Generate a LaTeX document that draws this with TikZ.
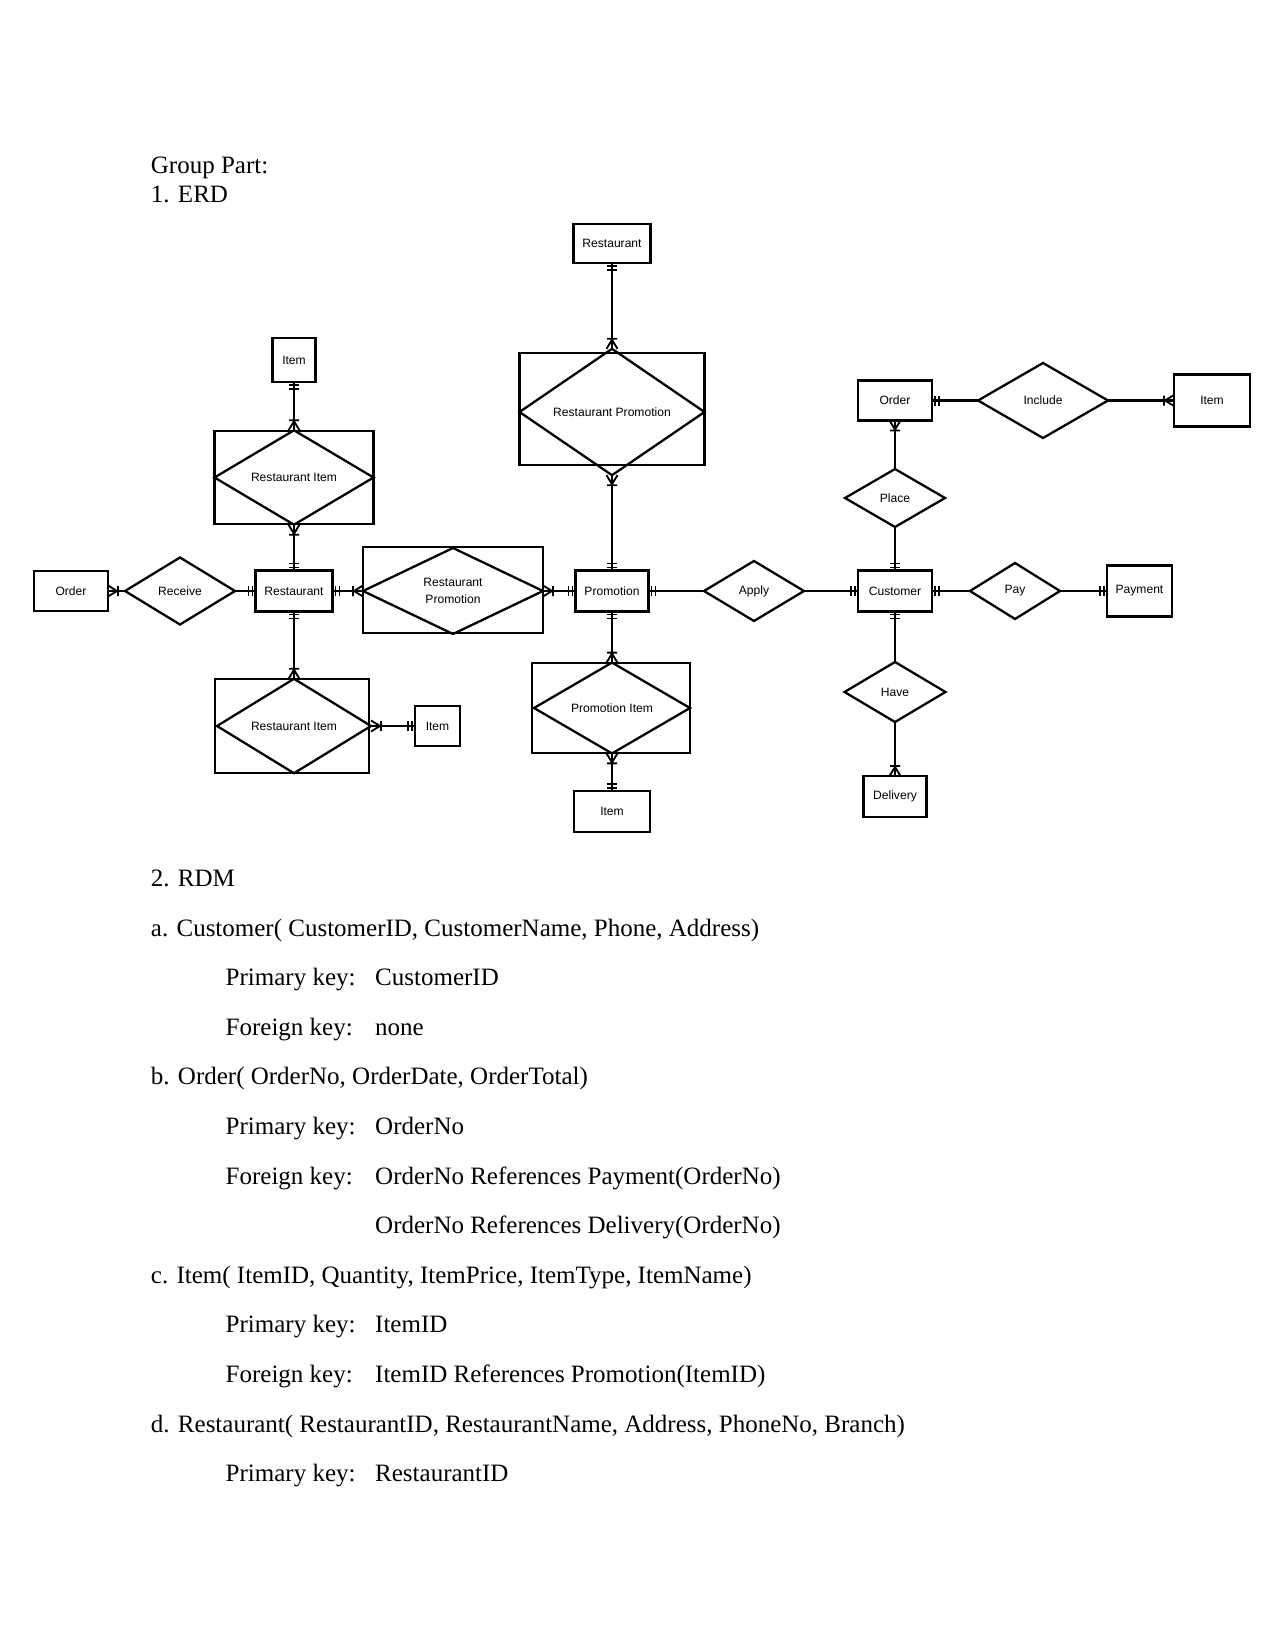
\documentclass[tikz,border=0pt]{standalone}
\usepackage{fontspec}
\setmainfont{Liberation Serif}
\newfontfamily\erdfont{Liberation Sans}
\usetikzlibrary{shapes.geometric}
\tikzset{
 erd/.style={font=\erdfont\fontsize{5.8}{8}\selectfont},
 ent/.style 2 args={draw, line width=1.1pt, rectangle, inner sep=0pt, outer sep=0pt, minimum width=#1*0.48pt, minimum height=#2*0.48pt, erd},
 rel/.style 2 args={draw, line width=1.1pt, diamond, inner sep=0pt, outer sep=0pt, minimum width=#1*0.48pt, minimum height=#2*0.48pt, erd, align=center},
 wbox/.style 2 args={draw, line width=1.1pt, rectangle, inner sep=0pt, outer sep=0pt, minimum width=#1*0.48pt, minimum height=#2*0.48pt},
 conn/.style={line width=1.1pt},
 thinconn/.style={line width=0.6pt},
 txt/.style={anchor=base west, inner sep=0pt, font=\fontsize{12}{14}\selectfont},
 one/.pic={\draw[line width=0.9pt] (3,-5)--(3,5) (7,-5)--(7,5);},
 many/.pic={\draw[line width=0.9pt] (0,-5.5)--(9,0)--(0,5.5) (10,-5)--(10,5);},
}
\begin{document}
\begin{tikzpicture}[x=0.48pt,y=0.48pt]
\fill[white] (0,0) rectangle (1275,-1651);
\useasboundingbox (0,0) rectangle (1275,-1651);

% ---------- text ----------
\node[txt] (t1) at (150.5,-173.7) {Group Part:};
\node[txt] (t2) at (150.5,-203) {1. ERD};
\node[txt] (t3) at (150.5,-886.5) {2. RDM};
\node[txt] (t4) at (150.5,-936.1) {a. Customer( CustomerID, CustomerName, Phone, Address)};
\node[txt] (t5) at (225.3,-985.7) {Primary key:};
\node[txt] (t5v) at (374.8,-985.7) {CustomerID};
\node[txt] (t6) at (225.3,-1035.3) {Foreign key:};
\node[txt] (t6v) at (374.8,-1035.3) {none};
\node[txt] (t7) at (150.5,-1084.9) {b. Order( OrderNo, OrderDate, OrderTotal)};
\node[txt] (t8) at (225.3,-1134.5) {Primary key:};
\node[txt] (t8v) at (374.8,-1134.5) {OrderNo};
\node[txt] (t9) at (225.3,-1184.1) {Foreign key:};
\node[txt] (t9v) at (374.8,-1184.1) {OrderNo References Payment(OrderNo)};
\node[txt] (t10v) at (374.8,-1233.7) {OrderNo References Delivery(OrderNo)};
\node[txt] (t11) at (150.5,-1283.3) {c. Item( ItemID, Quantity, ItemPrice, ItemType, ItemName)};
\node[txt] (t12) at (225.3,-1332.9) {Primary key:};
\node[txt] (t12v) at (374.8,-1332.9) {ItemID};
\node[txt] (t13) at (225.3,-1382.5) {Foreign key:};
\node[txt] (t13v) at (374.8,-1382.5) {ItemID References Promotion(ItemID)};
\node[txt] (t14) at (150.5,-1432.1) {d. Restaurant( RestaurantID, RestaurantName, Address, PhoneNo, Branch)};
\node[txt] (t15) at (225.3,-1481.7) {Primary key:};
\node[txt] (t15v) at (374.8,-1481.7) {RestaurantID};

% ---------- ERD nodes ----------
\node[ent={77}{39}] (R1) at (612,-243.5) {Restaurant};
\node[wbox={185}{112}] (RPT) at (612,-409) {};
\node[rel={185}{106}] (RPTd) at (612,-412) {Restaurant Promotion};

\node[ent={43}{44}] (I1) at (294,-360) {Item};
\node[wbox={159}{93}] (RIT) at (294,-477.5) {};
\node[rel={159}{93}] (RITd) at (RIT.center) {Restaurant Item};

\node[ent={74}{40}] (O2) at (895,-400.5) {Order};
\node[rel={130}{75}] (Inc) at (1043,-400.5) {Include};
\node[ent={76}{52}] (I2) at (1212,-400.5) {Item};
\node[rel={100}{58}] (Pl) at (895,-498) {Place};

\node[ent={74}{40}] (O1) at (71,-591) {Order};
\node[rel={110}{67}] (Rec) at (180,-591) {Receive};
\node[ent={77}{41}] (R2) at (294,-591) {Restaurant};
\node[wbox={180}{86}] (RPM) at (453,-590) {};
\node[rel={180}{86}] (RPMd) at (453,-591) {Restaurant\\Promotion};
\node[ent={73}{41}] (P) at (612,-591) {Promotion};
\node[rel={100}{60}] (App) at (754,-591) {Apply};
\node[ent={74}{41}] (C) at (895,-591) {Customer};
\node[rel={90}{56}] (Pay) at (1015,-591) {Pay};
\node[ent={65}{51}] (Pmt) at (1139.5,-591) {Payment};

\node[wbox={154}{94}] (RIB) at (292,-726) {};
\node[rel={154}{94}] (RIBd) at (294,-726) {Restaurant Item};
\node[ent={45}{40}] (I3) at (437.5,-726) {Item};
\node[wbox={158}{90}] (PI) at (611,-708) {};
\node[rel={156}{90}] (PId) at (612,-708) {Promotion Item};
\node[ent={76}{41}] (I4) at (612,-811.5) {Item};
\node[rel={101}{60}] (Hv) at (895,-692) {Have};
\node[ent={63}{41}] (D) at (895,-796.5) {Delivery};

% ---------- connectors ----------
\draw[conn] (I1) -- (RITd);
\draw[conn] (RITd) -- (R2);
\draw[conn] (O1) -- (Rec);
\draw[conn] (Rec) -- (R2);
\draw[conn] (R2) -- (RPMd);
\draw[conn] (RPMd) -- (P);
\draw[thinconn] (R1) -- (RPTd);
\draw[thinconn] (RPTd) -- (P);
\draw[conn] (P) -- (App);
\draw[conn] (App) -- (C);
\draw[conn] (R2) -- (RIBd);
\draw[conn] (RIBd) -- (I3);
\draw[conn] (P) -- (PId);
\draw[conn] (PId) -- (I4);
\draw[conn] (O2) -- (Inc);
\draw[conn] (Inc) -- (I2);
\draw[conn] (O2) -- (Pl);
\draw[conn] (Pl) -- (C);
\draw[conn] (C) -- (Pay);
\draw[conn] (Pay) -- (Pmt);
\draw[conn] (C) -- (Hv);
\draw[conn] (Hv) -- (D);

% ---------- cardinality marks ----------
\pic[rotate=-90] at (I1.south) {one};
\pic[rotate=90] at (RITd.north) {many};
\pic[rotate=-90] at (RITd.south) {many};
\pic[rotate=90] at (R2.north) {one};
\pic at (O1.east) {many};
\pic[rotate=180] at (R2.west) {one};
\pic at (R2.east) {one};
\pic[rotate=180] at (RPMd.west) {many};
\pic at (RPMd.east) {many};
\pic[rotate=180] at (P.west) {one};
\pic[rotate=-90] at (R1.south) {one};
\pic[rotate=90] at (RPTd.north) {many};
\pic[rotate=-90] at (RPTd.south) {many};
\pic[rotate=90] at (P.north) {one};
\pic at (P.east) {one};
\pic[rotate=180] at (C.west) {one};
\pic[rotate=-90] at (R2.south) {one};
\pic[rotate=90] at (RIBd.north) {many};
\pic at (RIBd.east) {many};
\pic[rotate=180] at (I3.west) {one};
\pic[rotate=-90] at (P.south) {one};
\pic[rotate=90] at (PId.north) {many};
\pic[rotate=-90] at (PId.south) {many};
\pic[rotate=90] at (I4.north) {one};
\pic at (O2.east) {one};
\pic[rotate=180] at (I2.west) {many};
\pic[rotate=-90] at (O2.south) {many};
\pic[rotate=90] at (C.north) {one};
\pic at (C.east) {one};
\pic[rotate=180] at (Pmt.west) {one};
\pic[rotate=-90] at (C.south) {one};
\pic[rotate=90] at (D.north) {many};
\end{tikzpicture}
\end{document}
